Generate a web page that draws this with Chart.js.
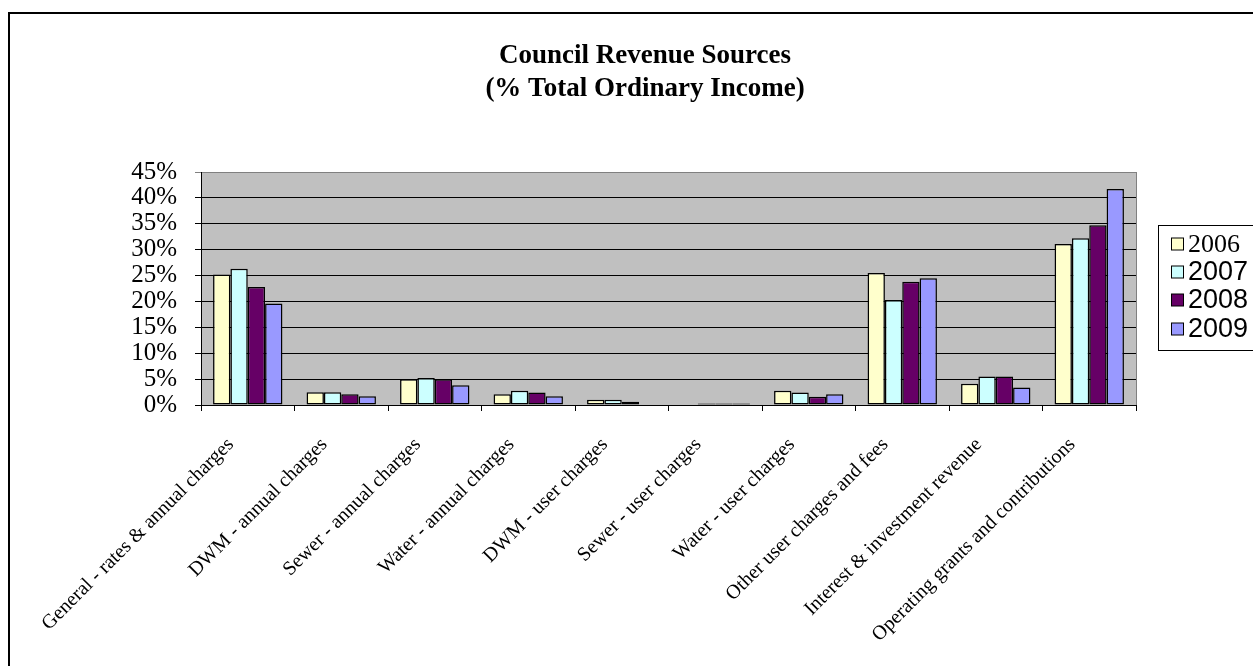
<!DOCTYPE html>
<html>
<head>
<meta charset="utf-8">
<title>Council Revenue Sources</title>
<script src="https://cdn.jsdelivr.net/npm/chart.js@4/dist/chart.umd.min.js"></script>
<style>
  html, body { margin: 0; padding: 0; background: #fff; overflow: hidden; }
  #wrap { position: relative; width: 1253px; height: 666px; }
</style>
</head>
<body>
<div id="wrap"><canvas id="chart" width="1253" height="666"></canvas></div>
<script>
// Revenue categories (x axis)
const categories = [
  'General - rates & annual charges',
  'DWM - annual charges',
  'Sewer - annual charges',
  'Water - annual charges',
  'DWM - user charges',
  'Sewer - user charges',
  'Water - user charges',
  'Other user charges and fees',
  'Interest & investment revenue',
  'Operating grants and contributions'
];

// Share of total ordinary income, per year (%)
const years = ['2006', '2007', '2008', '2009'];
const share2006 = [25.2, 2.45, 4.95, 2.06, 1.03, 0.0, 2.77, 25.5, 4.1, 31.1];
const share2007 = [26.3, 2.45, 5.2, 2.77, 1.03, 0.3, 2.4, 20.3, 5.5, 32.2];
const share2008 = [22.8, 2.06, 4.95, 2.4, 0.64, 0.3, 1.6, 23.8, 5.5, 34.7];
const share2009 = [19.6, 1.7, 3.8, 1.7, 0.0, 0.3, 2.06, 24.5, 3.4, 41.7];

// Y axis tick values
const yTicks = [0, 5, 10, 15, 20, 25, 30, 35, 40, 45];

const titleLines = ['Council Revenue Sources', '(% Total Ordinary Income)'];
const seriesColors = ['#FFFFCC', '#CCFFFF', '#660066', '#9999FF'];
const seriesValues = [share2006, share2007, share2008, share2009];

const SERIF = '"Liberation Serif", "Times New Roman", Times, serif';
const SANS = '"Liberation Sans", Arial, Helvetica, sans-serif';

// Frame, grey plot background, title and legend drawn around the chart area
const decorations = {
  id: 'decorations',
  beforeDraw(chart) {
    const { ctx, chartArea: a, width, height } = chart;
    ctx.save();
    ctx.fillStyle = '#fff';
    ctx.fillRect(0, 0, width, height);
    // outer chart frame (left and top edges visible)
    ctx.strokeStyle = '#000';
    ctx.lineWidth = 2;
    ctx.beginPath();
    ctx.moveTo(9, height + 2);
    ctx.lineTo(9, 13);
    ctx.lineTo(width + 2, 13);
    ctx.stroke();
    // plot area
    ctx.fillStyle = '#C0C0C0';
    ctx.fillRect(a.left, a.top, a.right - a.left, a.bottom - a.top);
    ctx.strokeStyle = '#808080';
    ctx.lineWidth = 1;
    ctx.strokeRect(a.left + 0.5, a.top + 0.5, a.right - a.left, a.bottom - a.top);
    ctx.restore();
  },
  afterDraw(chart) {
    const { ctx } = chart;
    ctx.save();
    // title
    ctx.fillStyle = '#000';
    ctx.font = 'bold 27px ' + SERIF;
    ctx.textAlign = 'center';
    ctx.textBaseline = 'alphabetic';
    ctx.fillText(titleLines[0], 645, 63);
    ctx.fillText(titleLines[1], 645, 96);

    // legend
    const bx = 1158.5, by = 225.5, bw = 120, bh = 125;
    ctx.fillStyle = '#fff';
    ctx.fillRect(bx, by, bw, bh);
    ctx.strokeStyle = '#000';
    ctx.lineWidth = 1;
    ctx.strokeRect(bx, by, bw, bh);
    const rows = [244, 272, 300, 329];
    chart.data.datasets.forEach((ds, i) => {
      const cy = rows[i];
      ctx.fillStyle = ds.backgroundColor;
      ctx.fillRect(1171.5, cy - 6, 12, 12);
      ctx.strokeStyle = '#000';
      ctx.strokeRect(1171.5, cy - 6, 12, 12);
      ctx.fillStyle = '#000';
      ctx.textAlign = 'left';
      ctx.textBaseline = 'middle';
      ctx.font = i === 0 ? '26px ' + SERIF : '27px ' + SANS;
      ctx.fillText(ds.label, 1188, cy + 1);
    });
    ctx.restore();
  }
};

new Chart(document.getElementById('chart'), {
  type: 'bar',
  data: {
    labels: categories,
    datasets: years.map((y, i) => ({
      label: y,
      data: seriesValues[i],
      backgroundColor: seriesColors[i],
      borderColor: '#000',
      borderWidth: 1.5,
      borderSkipped: false,
      categoryPercentage: 0.742,
      barPercentage: 1.0
    }))
  },
  options: {
    responsive: false,
    animation: false,
    layout: { padding: { top: 172, right: 117, left: 0, bottom: 0 } },
    plugins: {
      legend: { display: false },
      title: { display: false },
      tooltip: { enabled: false }
    },
    scales: {
      x: {
        afterFit(scale) { scale.height = 261; },
        border: { color: '#000', width: 1 },
        grid: {
          offset: true,
          drawOnChartArea: false,
          drawTicks: true,
          tickLength: 6,
          color: '#000'
        },
        ticks: {
          autoSkip: false,
          minRotation: 45,
          maxRotation: 45,
          padding: 22,
          labelOffset: -17,
          color: '#000',
          font: { family: SERIF, size: 20 }
        }
      },
      y: {
        min: 0,
        max: 45,
        afterFit(scale) { scale.width = 201; },
        afterBuildTicks(scale) { scale.ticks = yTicks.map(v => ({ value: v })); },
        border: { color: '#000', width: 1 },
        grid: {
          drawTicks: true,
          tickLength: 6,
          color: c => (c.tick && c.tick.value === 45 ? '#808080' : '#000'),
          lineWidth: 1
        },
        ticks: {
          autoSkip: false,
          padding: 18,
          color: '#000',
          font: { family: SERIF, size: 25 },
          callback: v => v + '%'
        }
      }
    }
  },
  plugins: [decorations]
});
</script>
</body>
</html>
